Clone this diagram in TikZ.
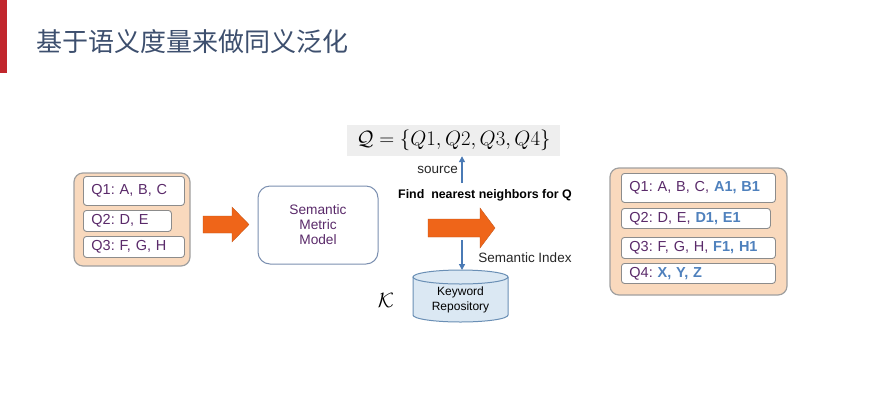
\documentclass[tikz,border=0pt]{standalone}
\usepackage{fontspec}
\setmainfont{Liberation Sans}
\newfontfamily\cjk{Noto Sans CJK SC}
\usetikzlibrary{arrows.meta}
\frenchspacing
\definecolor{barred}{HTML}{C1272D}
\definecolor{titleblue}{HTML}{3D4F6E}
\definecolor{peach}{HTML}{F9D9BD}
\definecolor{outergray}{HTML}{A0A0A0}
\definecolor{itemgray}{HTML}{8C8C8C}
\definecolor{purp}{HTML}{5A2A6A}
\definecolor{addblue}{HTML}{4F81BD}
\definecolor{blockorange}{HTML}{EF6519}
\definecolor{linkblue}{HTML}{4A7AB5}
\definecolor{cylfill}{HTML}{DBE8F3}
\definecolor{cylborder}{HTML}{6A8FB5}
\definecolor{smmborder}{HTML}{7B8FB0}
\definecolor{formulabg}{HTML}{EEEEEE}
\newcommand{\ad}[1]{\textbf{\color{addblue}#1}}
\begin{document}
\begin{tikzpicture}[x=1pt,y=-1pt,
  outerbox/.style={draw=outergray, fill=peach, rounded corners=9pt, line width=1.2pt},
  itembox/.style={draw=itemgray, fill=white, rounded corners=3pt, line width=0.9pt,
    anchor=north west, inner xsep=8pt, inner ysep=0pt, text=purp,
    font=\fontsize{14.5}{16}\selectfont\frenchspacing, align=left},
  blockarrow/.style={fill=blockorange, draw=blockorange!80!black, line width=0.3pt},
  thinarrow/.style={draw=linkblue, line width=1.3pt, -{Triangle[length=6pt,width=6pt]}},
  lbl/.style={font=\fontsize{13.5}{15}\selectfont, text=black!85, inner sep=0pt}
]
\useasboundingbox (0,0) rectangle (891,400);
\fill[white] (0,0) rectangle (891,400);
\fill[barred] (0,0) rectangle (7,73);
\node[anchor=west, inner sep=0pt, text=titleblue, font=\cjk\fontsize{26}{30}\selectfont] (title) at (36,42) {基于语义度量来做同义泛化};

% left box
\draw[outerbox] (74,173) rectangle (190,266);
\node[itembox, minimum height=29pt, text width=85pt] (l1) at (83,176) {Q1: A, B, C};
\node[itembox, minimum height=21pt, text width=72pt] (l2) at (83,210) {Q2: D, E};
\node[itembox, minimum height=21pt, text width=85pt] (l3) at (83,236) {Q3: F, G, H};

% arrow 1
\path[blockarrow] (203,216) -- (232,216) -- (232,207) -- (249,224.5) -- (232,242) -- (232,233) -- (203,233) -- cycle;

% semantic metric model
\node[draw=smmborder, line width=1pt, rounded corners=12pt, fill=white,
  minimum width=120pt, minimum height=78pt, text=purp, align=center,
  font=\fontsize{13.7}{15}\selectfont] (smm) at (318,225) {Semantic\\Metric\\Model};

% formula
\node[fill=formulabg, minimum width=213pt, minimum height=31pt, inner sep=0pt,
  font=\fontsize{21}{24}\selectfont] (formula) at (453.5,140.5)
  {$\mathcal{Q}=\{Q1,Q2,Q3,Q4\}$};

\coordinate (srcbot) at (462,183);
\draw[thinarrow] (srcbot) -- (srcbot |- formula.south);
\node[lbl, anchor=east] (source) at (458,170) {source};

\node[font=\bfseries\fontsize{12.4}{14}\selectfont, inner sep=0pt] (find) at (485,195) {Find\ \ nearest neighbors for Q};

% arrow 2
\path[blockarrow] (428,219) -- (480,219) -- (480,208) -- (495,228) -- (480,248) -- (480,237) -- (428,237) -- cycle;

% cylinder
\fill[cylfill] (413,277) -- (413,315) arc[start angle=180,end angle=360,x radius=47.5pt,y radius=7pt] -- (508,277) -- cycle;
\fill[cylfill] (460.5,277) ellipse [x radius=47.5pt, y radius=7pt];
\draw[cylborder, line width=1pt] (413,277) -- (413,315) arc[start angle=180,end angle=360,x radius=47.5pt,y radius=7pt] -- (508,277);
\draw[cylborder, line width=1pt] (460.5,277) ellipse [x radius=47.5pt, y radius=7pt];
\node[align=center, font=\fontsize{12}{15}\selectfont, inner sep=0pt] (repo) at (460.5,300) {Keyword\\Repository};
\coordinate (cyltop) at (462,270);

\coordinate (idxtop) at (462,240);
\draw[thinarrow] (idxtop) -- (cyltop);
\node[lbl] (index) at (525,258) {Semantic Index};
\node[font=\fontsize{20}{24}\selectfont, inner sep=0pt] (K) at (386,300) {$\mathcal{K}$};

% right box
\draw[outerbox] (610,168) rectangle (787,295);
\node[itembox, minimum height=29pt, text width=138pt] (r1) at (621,173) {Q1: A, B, C, \ad{A1, B1}};
\node[itembox, minimum height=20pt, text width=133pt] (r2) at (621,208) {Q2: D, E, \ad{D1, E1}};
\node[itembox, minimum height=21pt, text width=138pt] (r3) at (621,237) {Q3: F, G, H, \ad{F1, H1}};
\node[itembox, minimum height=20pt, text width=138pt] (r4) at (621,263) {Q4: \ad{X, Y, Z}};
\end{tikzpicture}
\end{document}
